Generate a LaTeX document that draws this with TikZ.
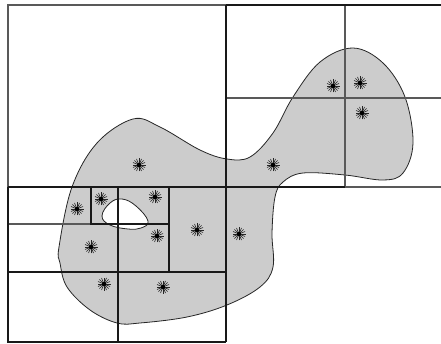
\documentclass[tikz,border=0pt]{standalone}
\tikzset{
  thinline/.style={line width=1.1pt, draw=black!65},
  thickline/.style={line width=1.5pt, draw=black!90},
  blobline/.style={line width=0.8pt, draw=black!85},
  pics/spark/.style={code={
    \foreach \a in {0,22.5,...,157.5}{\draw[line width=0.6pt,black!85] (\a:6.5) -- (\a+180:6.5);}
    \fill[black] (0,0) circle (2.2);
  }}
}
\begin{document}
\begin{tikzpicture}[x=1pt,y=-1pt]
\useasboundingbox (0,0) rectangle (441,344);
% blob with hole
\def\blob{plot[smooth cycle, tension=0.6] coordinates {
 (59,247) (72,187) (97,143) (133,119) (160,127) (200,150) (227,159) (250,157)
 (273,133) (293,97) (320,62) (353,48) (383,63) (405,97) (413,143) (403,173)
 (383,180) (345,175) (303,173) (283,182) (275,197) (272,233) (273,267) (260,287)
 (227,305) (187,317) (140,323) (117,323) (90,310) (67,287) (60,263)}}
\def\hole{plot[smooth cycle, tension=0.7] coordinates {
 (102,216) (110,203) (122,199) (136,206) (148,221) (141,228) (128,229) (110,225)}}
\fill[fill=black!20, even odd rule] \blob \hole;
\draw[blobline] \blob;
\draw[blobline] \hole;
% grid: thin
\draw[thinline] (8,187) -- (8,5) -- (226,5);
\draw[thinline] (345,5) -- (345,187);
\draw[thinline] (226,98) -- (441,98);
\draw[thinline] (345,187) -- (441,187);
\draw[thinline] (8,224) -- (91,224);
% grid: thick
\draw[thickline] (226,5) -- (441,5);
\draw[thickline] (226,5) -- (226,342);
\draw[thickline] (8,187) -- (345,187);
\draw[thickline] (8,187) -- (8,342) -- (226,342);
\draw[thickline] (118,187) -- (118,342);
\draw[thickline] (8,272) -- (226,272);
\draw[thickline] (91,187) -- (91,224) -- (118,224);
\draw[thickline] (118,224) -- (169,224);
\draw[thickline] (169,187) -- (169,272);
% sparks
\foreach \p in {(139,165),(333,86),(360,83),(362,113),(273,165),(77,209),(101,199),
  (155,197),(157,236),(197,230),(239,234),(91,247),(104,284),(163,287)}
  \pic at \p {spark};
\end{tikzpicture}
\end{document}
